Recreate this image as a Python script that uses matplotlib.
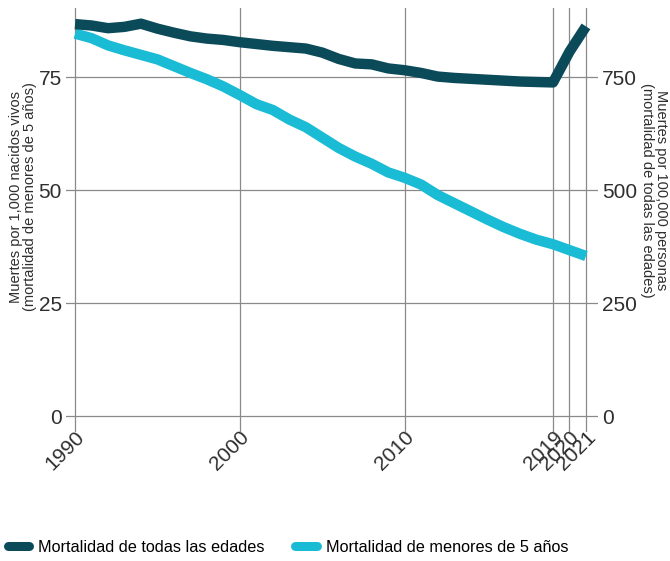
import matplotlib
matplotlib.use("Agg")
import matplotlib.pyplot as plt
from matplotlib.lines import Line2D

YEARS = list(range(1990, 2022))

# Muertes por 100,000 personas (todas las edades) - eje derecho
ALL_AGES = [867, 864, 858, 861, 868, 857, 848, 840, 835, 832,
            827, 823, 819, 816, 813, 804, 790, 780, 778, 769,
            765, 759, 751, 748, 746, 744, 742, 740, 739, 738,
            806, 862]

# Muertes por 1,000 nacidos vivos (menores de 5 años) - eje izquierdo
UNDER_5 = [84.6, 83.6, 82.0, 80.9, 79.9, 78.9, 77.4, 75.9, 74.5, 72.9,
           71.0, 69.0, 67.7, 65.6, 63.9, 61.6, 59.3, 57.4, 55.8, 53.9,
           52.7, 51.2, 48.9, 47.1, 45.3, 43.5, 41.8, 40.3, 39.0, 38.0,
           36.7, 35.4]

X_TICKS = [1990, 2000, 2010, 2019, 2020, 2021]
LEFT_TICKS = [0, 25, 50, 75]
RIGHT_TICKS = [0, 250, 500, 750]

DARK = "#0B4A59"
CYAN = "#19BCD4"
GRID = "#8A8A8A"
TEXT = "#2E2E2E"

plt.rcParams["font.family"] = ["Liberation Sans", "DejaVu Sans"]

fig = plt.figure(figsize=(6.7, 5.61), dpi=100, facecolor="white")
ax = fig.add_axes([66 / 670, 1 - 432 / 561, 531.5 / 670, 424 / 561])
ax2 = ax.twinx()

ax.set_xlim(1989.45, 2021.7)
ax.set_ylim(-3.54, 90.27)
ax2.set_ylim(-35.4, 902.7)

ax.plot(YEARS, UNDER_5, color=CYAN, lw=7.5, solid_capstyle="butt",
        solid_joinstyle="round", zorder=3)
ax2.plot(YEARS, ALL_AGES, color=DARK, lw=7.5, solid_capstyle="butt",
         solid_joinstyle="round", zorder=3)

ax.set_xticks(X_TICKS)
ax.set_yticks(LEFT_TICKS)
ax2.set_yticks(RIGHT_TICKS)
ax.grid(True, color=GRID, lw=0.9, zorder=0)
ax.set_axisbelow(True)

for a in (ax, ax2):
    for s in a.spines.values():
        s.set_visible(False)

ax.tick_params(axis="y", length=0, pad=3, labelsize=15, labelcolor=TEXT)
ax2.tick_params(axis="y", length=0, pad=3, labelsize=15, labelcolor=TEXT)
ax.tick_params(axis="x", length=0, pad=-3, labelsize=15, labelcolor=TEXT)
for lab in ax.get_xticklabels():
    lab.set_rotation(45)
    lab.set_rotation_mode("anchor")
    lab.set_ha("right")
    lab.set_va("top")

fig.text(23 / 670, 1 - 197 / 561,
         "Muertes por 1,000 nacidos vivos\n(mortalidad de menores de 5 años)",
         rotation=90, ha="center", va="center", fontsize=10.5, color=TEXT,
         linespacing=1.0)
fig.text(654 / 670, 1 - 190 / 561,
         "Muertes por 100,000 personas\n(mortalidad de todas las edades)",
         rotation=270, ha="center", va="center", fontsize=10.5, color=TEXT,
         linespacing=1.0)

handles = [
    Line2D([0], [0], color=DARK, lw=6.5, solid_capstyle="round"),
    Line2D([0], [0], color=CYAN, lw=6.5, solid_capstyle="round"),
]
fig.legend(handles,
           ["Mortalidad de todas las edades", "Mortalidad de menores de 5 años"],
           loc="lower left", bbox_to_anchor=(8 / 670, 6 / 561), ncol=2,
           frameon=False, borderpad=0, borderaxespad=0, handlelength=1.3,
           handletextpad=0.55, columnspacing=1.9,
           prop={"size": 11.7})

fig.savefig("out.png", dpi=100, facecolor="white")
